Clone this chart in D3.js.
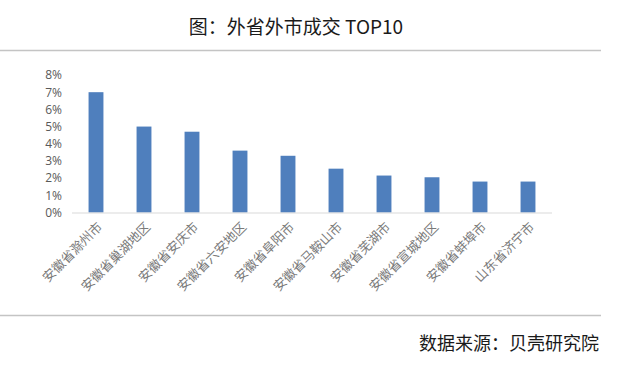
<!DOCTYPE html>
<html><head><meta charset="utf-8">
<script src="https://cdn.jsdelivr.net/npm/d3@7/dist/d3.min.js"></script>
<style>
html,body{margin:0;padding:0;background:#fff;}
svg{display:block;}
</style></head>
<body><svg id="c" width="618" height="367"></svg>
<script>
const categories = ["安徽省滁州市","安徽省巢湖地区","安徽省安庆市","安徽省六安地区","安徽省阜阳市","安徽省马鞍山市","安徽省芜湖市","安徽省宣城地区","安徽省蚌埠市","山东省济宁市"];
const values = [7.0, 5.0, 4.7, 3.6, 3.3, 2.55, 2.15, 2.05, 1.8, 1.8];
const yTicks = [0,1,2,3,4,5,6,7,8];
const titleText = "图：外省外市成交 TOP10";
const sourceText = "数据来源：贝壳研究院";

const svg = d3.select("#c");
const cjk = "'Noto Sans CJK SC','Noto Sans',sans-serif";

svg.append("text").attr("x",296).attr("y",34).attr("text-anchor","middle")
  .attr("font-family",cjk).attr("font-size",19).attr("fill","#1a1a1a").text(titleText);
svg.append("line").attr("x1",0).attr("x2",601).attr("y1",50.5).attr("y2",50.5)
  .attr("stroke","#c4c4c4").attr("stroke-width",1.5);
svg.append("line").attr("x1",0).attr("x2",601).attr("y1",315.5).attr("y2",315.5)
  .attr("stroke","#c4c4c4").attr("stroke-width",1.5);
svg.append("text").attr("x",599).attr("y",350).attr("text-anchor","end")
  .attr("font-family",cjk).attr("font-size",18).attr("fill","#1a1a1a").text(sourceText);

const x = d3.scaleBand().domain(categories).range([72,552]).paddingInner(0.69).paddingOuter(0.345);
const y = d3.scaleLinear().domain([0,8]).range([212.5,75]);

const yAxis = svg.append("g").attr("transform","translate(62,0)")
  .call(d3.axisLeft(y).tickValues(yTicks).tickSize(0).tickPadding(0).tickFormat(d=>d+"%"));
yAxis.select(".domain").remove();
yAxis.selectAll("text").attr("font-family","'Open Sans',sans-serif").attr("font-size",12).attr("fill","#595959");

svg.append("g").selectAll("rect").data(values).join("rect")
  .attr("x",(d,i)=>x(categories[i])).attr("width",x.bandwidth())
  .attr("y",d=>y(d)).attr("height",d=>y(0)-y(d)).attr("fill","#4f7fbd");

svg.append("line").attr("x1",72).attr("x2",552).attr("y1",y(0)+0.5).attr("y2",y(0)+0.5)
  .attr("stroke","#d9d9d9").attr("stroke-width",1);

const xAxis = svg.append("g").attr("transform",`translate(0,${y(0)})`)
  .call(d3.axisBottom(x).tickSize(0).tickPadding(0));
xAxis.select(".domain").remove();
xAxis.selectAll("text")
  .attr("font-family",cjk).attr("font-size",13).attr("fill","#7a7a7a")
  .attr("text-anchor","end").attr("dy","0.35em")
  .attr("transform","translate(4,12) rotate(-45)");
</script></body></html>
